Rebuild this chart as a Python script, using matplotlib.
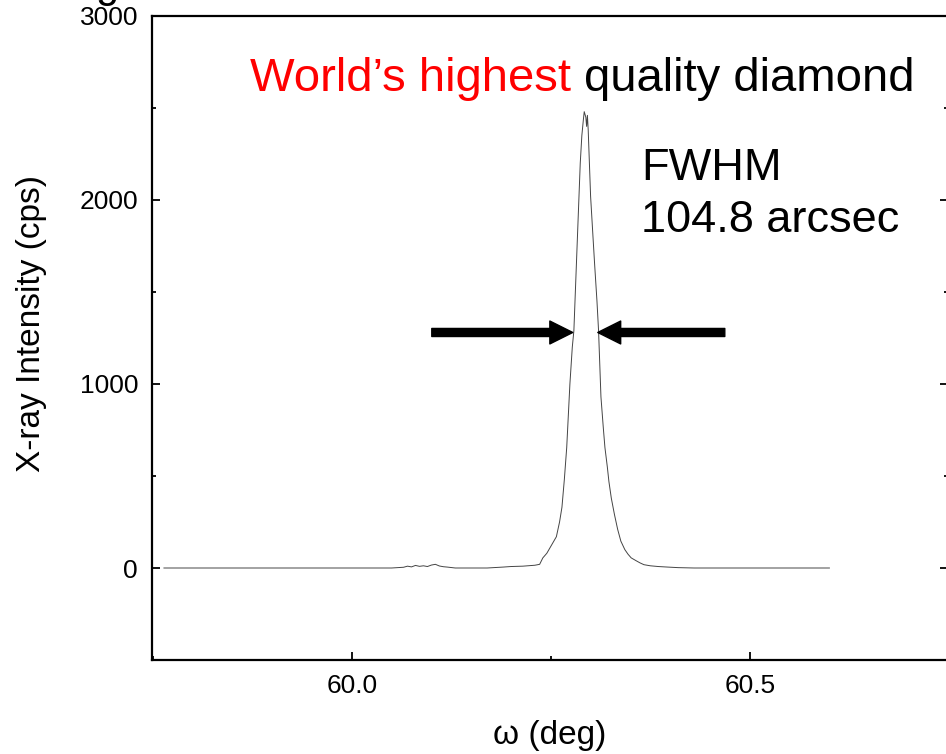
import matplotlib
matplotlib.use("Agg")
import matplotlib.pyplot as plt
from matplotlib.ticker import MultipleLocator

plt.rcParams["font.family"] = ["Liberation Sans", "DejaVu Sans"]

# rocking curve (deg, cps)
omega = [59.764, 59.90, 60.05, 60.065, 60.07, 60.075, 60.08, 60.085, 60.09, 60.095,
         60.10, 60.105, 60.11, 60.115, 60.12, 60.13, 60.17, 60.19, 60.20, 60.215,
         60.23, 60.236, 60.240, 60.245, 60.249, 60.253, 60.257, 60.261, 60.264, 60.267,
         60.270, 60.274, 60.277, 60.279, 60.283, 60.287, 60.289, 60.291, 60.292, 60.294,
         60.295, 60.296, 60.297, 60.300, 60.303, 60.305, 60.308, 60.310, 60.313, 60.316,
         60.318, 60.321, 60.323, 60.326, 60.330, 60.334, 60.338, 60.343, 60.347, 60.351,
         60.357, 60.362, 60.367, 60.375, 60.385, 60.397, 60.41, 60.43, 60.60]
counts = [0, 0, 0, 4, 10, 6, 14, 9, 12, 8,
          16, 20, 11, 7, 5, 0, 0, 5, 8, 10,
          15, 20, 55, 80, 110, 140, 170, 250, 330, 480,
          655, 1000, 1200, 1290, 1746, 2200, 2350, 2440, 2480, 2450,
          2400, 2460, 2380, 2020, 1800, 1655, 1450, 1290, 930, 760,
          655, 550, 470, 380, 290, 210, 146, 100, 75, 55,
          40, 28, 18, 12, 8, 5, 2, 0, 0]

x_ticks = [60.0, 60.5]
y_ticks = [0, 1000, 2000, 3000]

fig = plt.figure(figsize=(9.46, 7.54), dpi=100)
ax = fig.add_axes([152 / 946, 1 - 660 / 754, 796 / 946, 644 / 754])

ax.plot(omega, counts, color="#444444", lw=0.7)

ax.set_xlim(59.749, 60.749)
ax.set_ylim(-500, 3000)
ax.set_xticks(x_ticks)
ax.set_xticklabels(["60.0", "60.5"])
ax.set_yticks(y_ticks)
ax.xaxis.set_minor_locator(MultipleLocator(0.25))
ax.yaxis.set_minor_locator(MultipleLocator(500))
ax.tick_params(which="both", direction="in", right=True, top=False, width=1.3,
               labelsize=19, colors="black")
ax.tick_params(which="major", length=6, pad=10)
ax.tick_params(which="minor", length=3)
for s in ax.spines.values():
    s.set_linewidth(1.6)

ax.set_xlabel("ω (deg)", fontsize=24)
ax.set_ylabel("X-ray Intensity (cps)", fontsize=24)
ax.xaxis.set_label_coords(0.5, -0.093)
ax.yaxis.set_label_coords(-0.132, 0.522)

# FWHM arrows
arrow = dict(facecolor="black", edgecolor="black", width=5.8, headwidth=16.5,
             headlength=16.5, shrink=0)
ax.annotate("", xy=(60.2776, 1280), xytext=(60.1005, 1280), arrowprops=arrow)
ax.annotate("", xy=(60.3090, 1280), xytext=(60.4686, 1280), arrowprops=arrow)

red = fig.text(250 / 946, 1 - 91 / 754, "World\u2019s highest ", color="red",
               fontsize=34, va="baseline", ha="left")
ax.annotate("quality diamond", xy=(1, 0), xycoords=red, va="bottom", ha="left",
            fontsize=34, color="black")
fig.text(641 / 946, 1 - 180 / 754, "FWHM", fontsize=32.5, va="baseline")
fig.text(641 / 946, 1 - 232 / 754, "104.8 arcsec", fontsize=32.5, va="baseline")

# cropped heading letter at top-left edge
fig.text(95 / 946, 1 + 3 / 754, "g", fontsize=30, va="baseline")

fig.savefig("out.png", dpi=100, facecolor="white")
